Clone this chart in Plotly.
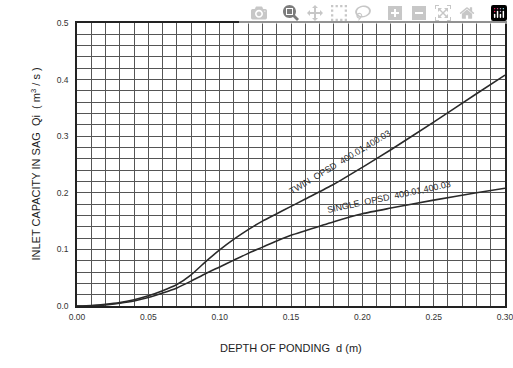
import plotly.graph_objects as go

depth = [0.00, 0.01, 0.02, 0.03, 0.04, 0.05, 0.06, 0.07, 0.08, 0.09, 0.10,
         0.11, 0.12, 0.13, 0.14, 0.15, 0.16, 0.18, 0.20, 0.22, 0.25, 0.28, 0.30]
twin = [0.000, 0.001, 0.003, 0.006, 0.011, 0.018, 0.027, 0.038, 0.055, 0.078, 0.099,
        0.118, 0.135, 0.150, 0.163, 0.176, 0.189, 0.215, 0.245, 0.276, 0.325, 0.375, 0.408]
single = [0.000, 0.0005, 0.002, 0.005, 0.009, 0.015, 0.023, 0.032, 0.044, 0.057, 0.069,
          0.081, 0.093, 0.104, 0.115, 0.125, 0.133, 0.149, 0.163, 0.173, 0.187, 0.200, 0.208]

FONT = "Liberation Sans, Arial, sans-serif"
ink = "#2a2a2a"
grid = "#555555"

fig = go.Figure()
# invisible trace that carries the fine-grid axes
fig.add_trace(go.Scatter(x=[0, 0.30], y=[0, 0.5], mode="markers", marker=dict(opacity=0),
                         xaxis="x2", yaxis="y2", showlegend=False, hoverinfo="skip"))
for name, ys in (("TWIN", twin), ("SINGLE", single)):
    fig.add_trace(go.Scatter(x=depth, y=ys, mode="lines", name=name,
                             line=dict(color=ink, width=1.6, shape="spline", smoothing=0.6),
                             showlegend=False))

fig.add_annotation(x=0.1845, y=0.254, text="TWIN  OPSD  400.01,400.03", showarrow=False,
                   textangle=-31, font=dict(family=FONT, size=9, color=ink))
fig.add_annotation(x=0.2185, y=0.192, text="SINGLE  OPSD  400.01,400.03", showarrow=False,
                   textangle=-12, font=dict(family=FONT, size=9, color=ink))

# axis titles
fig.add_annotation(xref="paper", yref="paper", x=0.5, y=-0.148, yanchor="middle",
                   text="DEPTH OF PONDING  d (m)", showarrow=False,
                   font=dict(family=FONT, size=11, color="#222"))
fig.add_annotation(xref="paper", yref="paper", x=-0.098, y=0.5, xanchor="center",
                   text="INLET CAPACITY IN SAG  Qi  ( m<sup>3</sup> / s )", showarrow=False,
                   textangle=-90, font=dict(family=FONT, size=11, color="#222"))

fig.update_layout(
    xaxis=dict(range=[0, 0.30], tickmode="linear", tick0=0, dtick=0.05, tickformat=".2f",
               showgrid=True, gridcolor=grid, gridwidth=1,
               showline=True, linecolor="#222", linewidth=1.5, mirror=True,
               ticks="", zeroline=False, automargin=False,
               ticklabelstandoff=2, ticklabeloverflow="allow",
               tickfont=dict(family=FONT, size=8.5, color="#333")),
    yaxis=dict(range=[0, 0.5], tickmode="linear", tick0=0, dtick=0.1, tickformat=".1f",
               showgrid=True, gridcolor=grid, gridwidth=1,
               showline=True, linecolor="#222", linewidth=1.5, mirror=True,
               ticks="", zeroline=False, automargin=False,
               ticklabelstandoff=5, ticklabeloverflow="allow",
               tickfont=dict(family=FONT, size=8.5, color="#333")),
    xaxis2=dict(range=[0, 0.30], overlaying="x", side="bottom", anchor="y",
                tickmode="linear", tick0=0, dtick=0.01, showticklabels=False,
                showgrid=True, gridcolor=grid, gridwidth=1,
                zeroline=False, ticks="", automargin=False),
    yaxis2=dict(range=[0, 0.5], overlaying="y", side="left", anchor="x",
                tickmode="linear", tick0=0, dtick=0.02, showticklabels=False,
                showgrid=True, gridcolor=grid, gridwidth=1,
                zeroline=False, ticks="", automargin=False),
)

fig.update_layout(width=513, height=368, margin=dict(l=77, r=8, t=23, b=62),
                  plot_bgcolor="white", paper_bgcolor="white")

# remove the page's default body margin so the figure fills the window exactly
fig.write_html("out.html",
               post_script="document.body.style.margin='0';document.body.style.overflow='hidden';")
